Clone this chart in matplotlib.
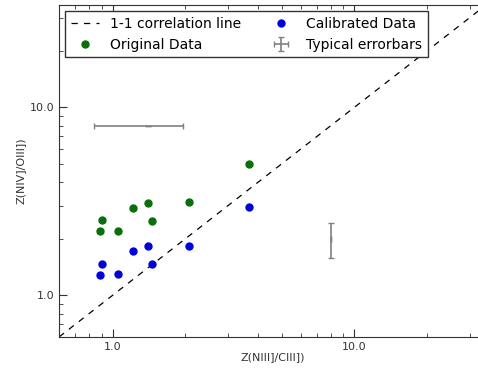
import matplotlib
matplotlib.use("Agg")
import matplotlib.pyplot as plt
from matplotlib.ticker import FormatStrFormatter, NullFormatter

# values
x_nc = [0.90, 0.89, 1.05, 1.21, 1.40, 1.45, 2.07, 3.66]
y_orig = [2.50, 2.19, 2.21, 2.91, 3.10, 2.48, 3.12, 5.02]
y_cal = [1.475, 1.29, 1.30, 1.73, 1.83, 1.475, 1.83, 2.96]

# typical errorbars
err_x = [1.4, 8.0]
err_y = [8.0, 2.0]
err_dx = [0.56, 0.0]
err_dy = [0.0, 0.43]

one_one = [0.6, 35.0]

fig = plt.figure(figsize=(4.78, 3.68), dpi=100)
ax = fig.add_axes([59/478, 31/368, 427/478, 332/368])

l1, = ax.plot(one_one, one_one, '--', color='k', lw=0.9, dashes=(5, 5), label='1-1 correlation line')
p1, = ax.plot(x_nc, y_orig, 'o', color='#0a6e0a', mec='#0a6e0a', ms=5, label='Original Data')
p2, = ax.plot(x_nc, y_cal, 'o', color='#0000dd', mec='#0000dd', ms=5, label='Calibrated Data')
eb = ax.errorbar(err_x, err_y, xerr=err_dx, yerr=err_dy, fmt='none', ecolor='gray',
                 elinewidth=1.2, capsize=2, capthick=1, label='Typical errorbars')

ax.set_xscale('log')
ax.set_yscale('log')
ax.set_xlim(0.6, 35)
ax.set_ylim(0.6, 35)

for a in (ax.xaxis, ax.yaxis):
    a.set_major_formatter(FormatStrFormatter('%.1f'))
    a.set_minor_formatter(NullFormatter())
ax.tick_params(which='both', direction='in', top=True, right=True, labelsize=8, colors='#333333')
ax.tick_params(which='major', length=6)
ax.tick_params(which='minor', length=3)
for s in ax.spines.values():
    s.set_color('#333333')

ax.set_xlabel('Z(NIII]/CIII])', fontsize=8, color='#333333', labelpad=0)
ax.set_ylabel('Z(NIV]/OIII])', fontsize=8, color='#333333', labelpad=3)

leg = ax.legend([l1, p1, p2, eb], ['1-1 correlation line', 'Original Data', 'Calibrated Data', 'Typical errorbars'],
                loc='upper left', ncol=2, fontsize=10, fancybox=False, framealpha=1,
                edgecolor='#333333', numpoints=1, borderaxespad=0.45,
                handlelength=2.0, columnspacing=1.9, borderpad=0.4, labelspacing=0.5)
leg.get_frame().set_linewidth(1.0)

fig.savefig('out.png', dpi=100)
